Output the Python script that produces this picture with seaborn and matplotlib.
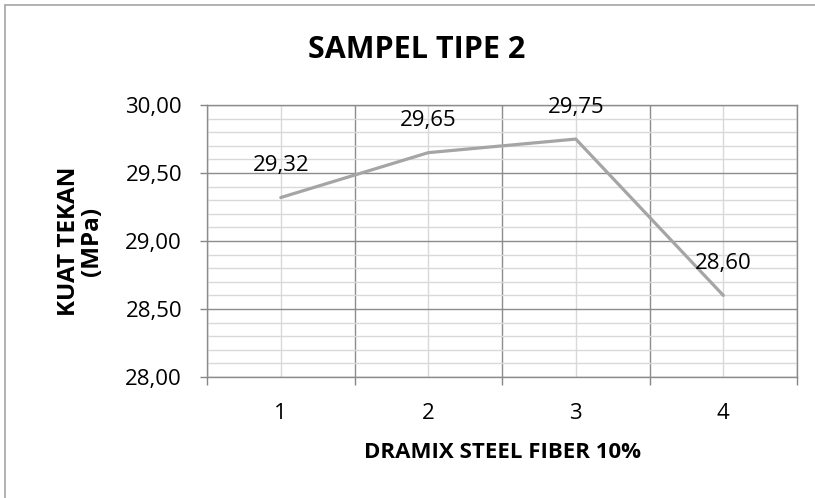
import pandas as pd
import seaborn as sns
import matplotlib.pyplot as plt
from matplotlib.lines import Line2D
from matplotlib.ticker import FuncFormatter

# data
samples = [1, 2, 3, 4]
kuat_tekan = [29.32, 29.65, 29.75, 28.60]
value_labels = ['29,32', '29,65', '29,75', '28,60']

df = pd.DataFrame({'sampel': samples, 'kuat': kuat_tekan})

sns.set_theme(style='white')
plt.rcParams['font.family'] = ['Open Sans', 'DejaVu Sans']

fig = plt.figure(figsize=(8.15, 4.98), dpi=100)
ax = fig.add_axes([0.254, 0.243, 0.724, 0.546])

sns.lineplot(data=df, x='sampel', y='kuat', ax=ax, color='#A5A5A5',
             linewidth=2.3, legend=False)

# data labels above points
for xv, yv, lab in zip(df['sampel'], df['kuat'], value_labels):
    ax.annotate(lab, (xv, yv), xytext=(0, 23), textcoords='offset points',
                ha='center', va='center', fontsize=16, color='black')

ax.set_xlim(0.5, 4.5)
ax.set_ylim(28.0, 30.0)

# category boundaries as major ticks, category centres carry labels
ax.set_xticks([0.5, 1.5, 2.5, 3.5, 4.5], labels=[])
ax.set_xticks(samples, labels=[str(s) for s in samples], minor=True)
ax.set_yticks([28.0, 28.5, 29.0, 29.5, 30.0])
ax.set_yticks([28.0 + 0.1 * i for i in range(21)], minor=True)
ax.yaxis.set_major_formatter(FuncFormatter(lambda v, p: f'{v:.2f}'.replace('.', ',')))

ax.tick_params(axis='x', which='major', length=6, width=1, color='#868686', direction='out', bottom=True)
ax.tick_params(axis='x', which='minor', length=0, pad=19, labelsize=16, labelcolor='black')
ax.tick_params(axis='y', which='major', length=5, width=1, color='#868686', direction='out', left=True,
               pad=13, labelsize=16, labelcolor='black')
ax.tick_params(axis='y', which='minor', length=0)

ax.grid(True, which='major', color='#8C8C8C', linewidth=1)
ax.grid(True, which='minor', color='#D9D9D9', linewidth=1)
ax.set_axisbelow(True)

for side in ['left', 'bottom', 'top', 'right']:
    ax.spines[side].set_visible(True)
    ax.spines[side].set_color('#8C8C8C')
    ax.spines[side].set_linewidth(1)

ax.set_xlabel('DRAMIX STEEL FIBER 10%', fontsize=16, fontweight='bold', color='black')
ax.xaxis.set_label_coords(0.5, -0.276)
ax.xaxis.label.set_va('center')

ax.set_ylabel('KUAT TEKAN\n(MPa)', fontsize=17.5, fontweight='bold', color='black',
              multialignment='center', linespacing=0.95)
ax.yaxis.set_label_coords(-0.215, 0.5)
ax.yaxis.label.set_va('center')

fig.text(0.511, 0.90, 'SAMPEL TIPE 2', ha='center', va='center',
         fontsize=22, fontweight='bold', color='black')

# chart area border (left and top visible)
fig.add_artist(Line2D([5 / 815, 5 / 815], [0, 1 - 5 / 498], transform=fig.transFigure,
                      color='#A6A6A6', linewidth=1.2))
fig.add_artist(Line2D([5 / 815, 1], [1 - 5 / 498, 1 - 5 / 498], transform=fig.transFigure,
                      color='#A6A6A6', linewidth=1.2))

fig.savefig('out.png', dpi=100, facecolor='white')
